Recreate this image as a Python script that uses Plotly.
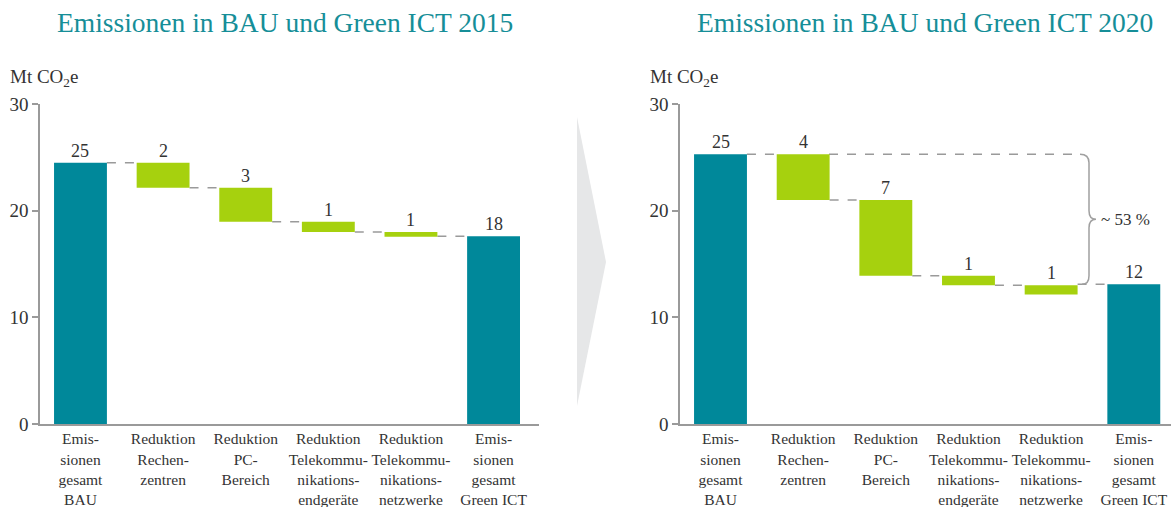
import plotly.graph_objects as go

W, H = 1171, 507

categories = [
    "Emis-<br>sionen<br>gesamt<br>BAU",
    "Reduktion<br>Rechen-<br>zentren",
    "Reduktion<br>PC-<br>Bereich",
    "Reduktion<br>Telekommu-<br>nikations-<br>endgeräte",
    "Reduktion<br>Telekommu-<br>nikations-<br>netzwerke",
    "Emis-<br>sionen<br>gesamt<br>Green ICT",
]

# 2015
bau_2015 = 24.5
red_2015 = [2.35, 3.2, 0.95, 0.45]
green_2015 = 17.6
labels_2015 = ["25", "2", "3", "1", "1", "18"]

# 2020
bau_2020 = 25.3
red_2020 = [4.3, 7.1, 0.9, 0.85]
green_2020 = 13.1
labels_2020 = ["25", "4", "7", "1", "1", "12"]
share_label = "~ 53 %"

titles = ["Emissionen in BAU und Green ICT 2015", "Emissionen in BAU und Green ICT 2020"]
y_ticks = [0, 10, 20, 30]

TEAL = "#00889a"
GREEN = "#a6d10e"
TITLE = "#168e98"
GRAY = "#9a9a9a"
TXT = "#333333"
FONT = "Liberation Serif"
BW = 0.64

fig = go.Figure()
shapes = []
annotations = []


def px(x):
    return x / W


def py(y):
    return (H - y) / H


def panel(bau, reds, green, labels, xa, ya):
    bases, heights, colors = [0], [bau], [TEAL]
    level = bau
    levels = [bau]
    for r in reds:
        level -= r
        bases.append(level)
        heights.append(r)
        colors.append(GREEN)
        levels.append(level)
    bases.append(0)
    heights.append(green)
    colors.append(TEAL)
    xs = list(range(len(categories)))
    fig.add_trace(go.Bar(x=xs, y=heights, base=bases, width=BW,
                         marker=dict(color=colors, line=dict(width=0)),
                         xaxis=xa, yaxis=ya, hoverinfo="skip", showlegend=False))
    n = len(categories)
    for i in range(n - 1):
        lv = levels[i] if i < n - 2 else green
        shapes.append(dict(type="line", xref=xa, yref=ya, x0=i + BW / 2, x1=i + 1 - BW / 2,
                           y0=lv, y1=lv, line=dict(color=GRAY, width=1.5, dash="dash"), layer="below"))
    for i, lab in enumerate(labels):
        top = bases[i] + heights[i]
        annotations.append(dict(x=i, y=top, xref=xa, yref=ya, text=lab, showarrow=False,
                                yanchor="bottom", font=dict(size=18, color=TXT, family=FONT)))


panel(bau_2015, red_2015, green_2015, labels_2015, "x", "y")
panel(bau_2020, red_2020, green_2020, labels_2020, "x2", "y2")

# top dashed line of right panel continues beyond bar 2 to the brace
bx0, bx1, bx2 = px(1080), px(1089), px(1096)
shapes.append(dict(type="line", xref="paper", yref="y2", x0=px(829), x1=bx0,
                   y0=bau_2020, y1=bau_2020, line=dict(color=GRAY, width=1.5, dash="dash"), layer="below"))

ytop, ybot = bau_2020, green_2020
ymid = (ytop + ybot) / 2
r = 0.8
path = (f"M {bx0},{ytop} Q {bx1},{ytop} {bx1},{ytop - r} "
        f"L {bx1},{ymid + r} Q {bx1},{ymid} {bx2},{ymid} "
        f"Q {bx1},{ymid} {bx1},{ymid - r} "
        f"L {bx1},{ybot + r} Q {bx1},{ybot} {px(1082)},{ybot}")
shapes.append(dict(type="path", xref="paper", yref="y2", path=path,
                   line=dict(color="#a0a0a0", width=1.5)))
annotations.append(dict(x=px(1099), y=ymid, xref="paper", yref="y2", text=share_label,
                        showarrow=False, xanchor="left", yanchor="middle",
                        font=dict(size=17, color=TXT, family=FONT)))

# chevron
shapes.append(dict(type="path", xref="paper", yref="paper",
                   path=f"M {px(577)},{py(117)} L {px(606)},{py(262)} L {px(577)},{py(406)} Z",
                   fillcolor="#e6e7e8", line=dict(width=0), layer="below"))

# titles
for cx, t in zip([285, 925], titles):
    annotations.append(dict(x=px(cx), y=py(22), xref="paper", yref="paper", text=t, showarrow=False,
                            xanchor="center", yanchor="middle", font=dict(size=27.5, color=TITLE, family=FONT)))
# unit labels
for lx in [8, 648]:
    annotations.append(dict(x=px(lx), y=py(78), xref="paper", yref="paper", text="Mt CO<sub>2</sub>e",
                            showarrow=False, xanchor="left", yanchor="middle",
                            font=dict(size=19, color=TXT, family=FONT)))

xcommon = dict(tickmode="array", tickvals=list(range(len(categories))), ticktext=categories,
               showline=True, linecolor=GRAY, linewidth=1.5, ticks="", showgrid=False, zeroline=False,
               automargin=False,
               tickfont=dict(size=15.5, color=TXT, family=FONT), fixedrange=True)
ycommon = dict(range=[0, 30], tickvals=y_ticks, showline=True, linecolor=GRAY, linewidth=1.5,
               ticks="outside", ticklen=6, tickcolor=GRAY, tickwidth=1.5, showgrid=False, zeroline=False,
               automargin=False,
               tickfont=dict(size=19, color=TXT, family=FONT), fixedrange=True)

ydom = [py(424), py(104)]
fig.update_layout(
    width=W, height=H, margin=dict(l=0, r=0, t=0, b=0, pad=0, autoexpand=False),
    paper_bgcolor="white", plot_bgcolor="white",
    xaxis=dict(domain=[px(40), px(539)], range=[-0.49, 5.55], anchor="y", **xcommon),
    yaxis=dict(domain=ydom, anchor="x", **ycommon),
    xaxis2=dict(domain=[px(680), 1], range=[-0.49, 5.45], anchor="y2", **xcommon),
    yaxis2=dict(domain=ydom, anchor="x2", **ycommon),
    shapes=shapes, annotations=annotations, showlegend=False,
    font=dict(family=FONT, color=TXT),
)

fig.write_html(
    "out.html",
    config={"responsive": False, "displayModeBar": False},
    post_script="document.body.style.margin='0';document.body.style.padding='0';",
)
